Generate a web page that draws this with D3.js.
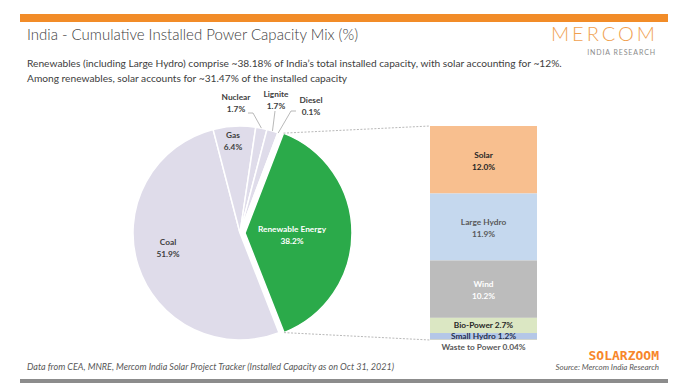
<!DOCTYPE html>
<html>
<head>
<meta charset="utf-8">
<script src="https://cdn.jsdelivr.net/npm/d3@7"></script>
<style>
  body { margin: 0; background: #fff; }
  svg { display: block; font-family: Lato, "Open Sans", sans-serif; }
</style>
</head>
<body>
<div id="chart"></div>
<script>

// overall mix (% of installed capacity)
var mixNames = ["Coal", "Gas", "Nuclear", "Lignite", "Diesel", "Renewable Energy"];
var mixValues = [51.9, 6.4, 1.7, 1.7, 0.1, 38.2];

// breakdown of renewables (% of total installed capacity)
var reNames = ["Solar", "Large Hydro", "Wind", "Bio-Power", "Small Hydro", "Waste to Power"];
var reValues = [12.0, 11.9, 10.2, 2.7, 1.2, 0.04];

var width = 680, height = 392;

var mixColor = d3.scaleOrdinal()
    .domain(mixNames)
    .range(["#dfdcea", "#dfdcea", "#dfdcea", "#dfdcea", "#f4b183", "#2baa4a"]);
var reColor = d3.scaleOrdinal()
    .domain(reNames)
    .range(["#f8bf8f", "#c5d8ee", "#bcbcbc", "#dbe7c3", "#b4c7e7", "#ffd966"]);
var reText = d3.scaleOrdinal()
    .domain(reNames)
    .range(["#262626", "#595959", "#ffffff", "#262626", "#1f2f4f", "#595959"]);

var pct = function(v) { return (v < 0.1 ? v.toFixed(2) : v.toFixed(1)) + "%"; };

var svg = d3.select("#chart").append("svg")
    .attr("width", width)
    .attr("height", height);

// header
svg.append("rect").attr("x", 20).attr("y", 14).attr("width", 648).attr("height", 8).attr("fill", "#f28c28");
svg.append("text").attr("x", 27).attr("y", 40)
    .attr("font-size", 15).attr("font-weight", 300).attr("fill", "#404040")
    .text("India - Cumulative Installed Power Capacity Mix (%)");
svg.append("text").attr("x", 658).attr("y", 41).attr("text-anchor", "end")
    .attr("font-size", 20).attr("font-weight", 300).attr("letter-spacing", 3).attr("fill", "#f0a150")
    .text("MERCOM");
svg.append("text").attr("x", 656).attr("y", 55).attr("text-anchor", "end")
    .attr("font-size", 7).attr("letter-spacing", 0.9).attr("fill", "#8c8c8c")
    .text("INDIA RESEARCH");

var sub = svg.append("g").attr("font-size", 10.2).attr("fill", "#404040");
sub.append("text").attr("x", 27).attr("y", 67)
    .text("Renewables (including Large Hydro) comprise ~38.18% of India\u2019s total installed capacity, with solar accounting for ~12%.");
sub.append("text").attr("x", 27).attr("y", 82)
    .text("Among renewables, solar accounts for ~31.47% of the installed capacity");

// pie
var cx = 240, cy = 233, r = 107, explode = 5;
var startA = 158.6 * Math.PI / 180;

var pie = d3.pie().sort(null).value(function(d) { return d.v; })
    .startAngle(startA).endAngle(startA + 2 * Math.PI);
var arcs = pie(mixNames.map(function(n, i) { return {name: n, v: mixValues[i]}; }));
var arc = d3.arc().innerRadius(0).outerRadius(r);

var shift = function(d) {
    if (d.data.name !== "Renewable Energy") return [0, 0];
    var m = (d.startAngle + d.endAngle) / 2;
    return [Math.sin(m) * explode, -Math.cos(m) * explode];
};

var pieG = svg.append("g").attr("transform", "translate(" + cx + "," + cy + ")");

pieG.selectAll("path.slice")
    .data(arcs)
    .enter()
    .append("path")
    .attr("class", "slice")
    .attr("d", arc)
    .attr("transform", function(d) { return "translate(" + shift(d) + ")"; })
    .attr("fill", function(d) { return mixColor(d.data.name); })
    .attr("stroke", "#fff")
    .attr("stroke-width", 1.5);

// bar of renewables
var barX = 430, barW = 107, barTop = 126, barBot = 340;
var reTotal = d3.sum(reValues);
var y = d3.scaleLinear().domain([0, reTotal]).range([barTop, barBot]);
var stacked = [];
reValues.reduce(function(acc, v, i) {
    stacked.push({name: reNames[i], v: v, y0: acc, y1: acc + v});
    return acc + v;
}, 0);

// connector lines from the renewable slice to the bar
var re = arcs[arcs.length - 1], reShift = shift(re);
var edgePt = function(a) { return [cx + reShift[0] + Math.sin(a) * r, cy + reShift[1] - Math.cos(a) * r]; };
var pTop = edgePt(re.startAngle), pBot = edgePt(re.endAngle);
svg.append("g").attr("stroke", "#a6a6a6").attr("stroke-width", 0.8).attr("stroke-dasharray", "2,1.5")
    .selectAll("line")
    .data([[pTop, [barX, y(0)]], [pBot, [barX, y(reTotal)]]])
    .enter()
    .append("line")
    .attr("x1", function(d) { return d[0][0]; })
    .attr("y1", function(d) { return d[0][1]; })
    .attr("x2", function(d) { return d[1][0]; })
    .attr("y2", function(d) { return d[1][1]; });

svg.selectAll("rect.seg")
    .data(stacked)
    .enter()
    .append("rect")
    .attr("class", "seg")
    .attr("x", barX)
    .attr("y", function(d) { return y(d.y0); })
    .attr("width", barW)
    .attr("height", function(d) { return y(d.y1) - y(d.y0); })
    .attr("fill", function(d) { return reColor(d.name); });

var segLabels = svg.append("g").attr("font-size", 8.3).attr("font-weight", "bold").attr("text-anchor", "middle");
stacked.forEach(function(d) {
    var h = y(d.y1) - y(d.y0), mid = (y(d.y0) + y(d.y1)) / 2;
    var t = segLabels.append("text").attr("x", barX + barW / 2).attr("fill", reText(d.name));
    if (h > 30) {
        t.attr("y", mid - 2).text(d.name);
        segLabels.append("text").attr("x", barX + barW / 2).attr("y", mid + 10)
            .attr("fill", reText(d.name)).text(pct(d.v));
    } else if (h > 4) {
        t.attr("y", mid + 3).text(d.name + " " + pct(d.v));
    } else {
        t.attr("y", barBot + 10).text(d.name + " " + pct(d.v));
    }
});

// pie labels
var labelPos = {
    "Coal": [168, 245], "Gas": [233, 138], "Renewable Energy": [292, 232],
    "Nuclear": [236, 100], "Lignite": [276, 97], "Diesel": [311, 103]
};
var outside = ["Nuclear", "Lignite", "Diesel"];

var leaders = svg.append("g").attr("stroke", "#a6a6a6").attr("stroke-width", 0.8).attr("fill", "none");
arcs.forEach(function(d) {
    if (outside.indexOf(d.data.name) < 0) return;
    var m = (d.startAngle + d.endAngle) / 2, p = labelPos[d.data.name];
    var ex = cx + Math.sin(m) * r, ey = cy - Math.cos(m) * r;
    var pts;
    if (d.data.name === "Nuclear") pts = [[p[0] + 12, p[1] + 13], [p[0] + 17, p[1] + 13], [ex, ey]];
    else if (d.data.name === "Lignite") pts = [[p[0] - 1, p[1] + 14], [ex, ey]];
    else pts = [[p[0] - 15, p[1] + 8], [p[0] - 20, p[1] + 8], [ex, ey]];
    leaders.append("path").attr("d", d3.line()(pts));
});

var pieLabels = svg.append("g").attr("font-size", 8.3).attr("font-weight", "bold").attr("text-anchor", "middle");
arcs.forEach(function(d) {
    var p = labelPos[d.data.name];
    var col = d.data.name === "Renewable Energy" ? "#ffffff" : "#404040";
    pieLabels.append("text").attr("x", p[0]).attr("y", p[1]).attr("fill", col).text(d.data.name);
    pieLabels.append("text").attr("x", p[0]).attr("y", p[1] + 12).attr("fill", col).text(pct(d.data.v));
});

// footer
svg.append("text").attr("x", 27).attr("y", 370)
    .attr("font-size", 9).attr("font-style", "italic").attr("fill", "#595959")
    .text("Data from CEA, MNRE, Mercom India Solar Project Tracker  (Installed Capacity as on Oct 31, 2021)");
svg.append("text").attr("x", 659).attr("y", 360).attr("text-anchor", "end")
    .attr("font-family", "'DejaVu Sans Mono', monospace").attr("font-size", 13).attr("font-weight", "bold")
    .attr("fill", "#f7862a")
    .text("SOLARZOOM");
svg.append("text").attr("x", 659).attr("y", 370).attr("text-anchor", "end")
    .attr("font-size", 8).attr("font-style", "italic").attr("fill", "#595959")
    .text("Source: Mercom India Research");
svg.append("rect").attr("x", 20).attr("y", 379).attr("width", 648).attr("height", 4).attr("fill", "#8c8c8c");

</script>
</body>
</html>
